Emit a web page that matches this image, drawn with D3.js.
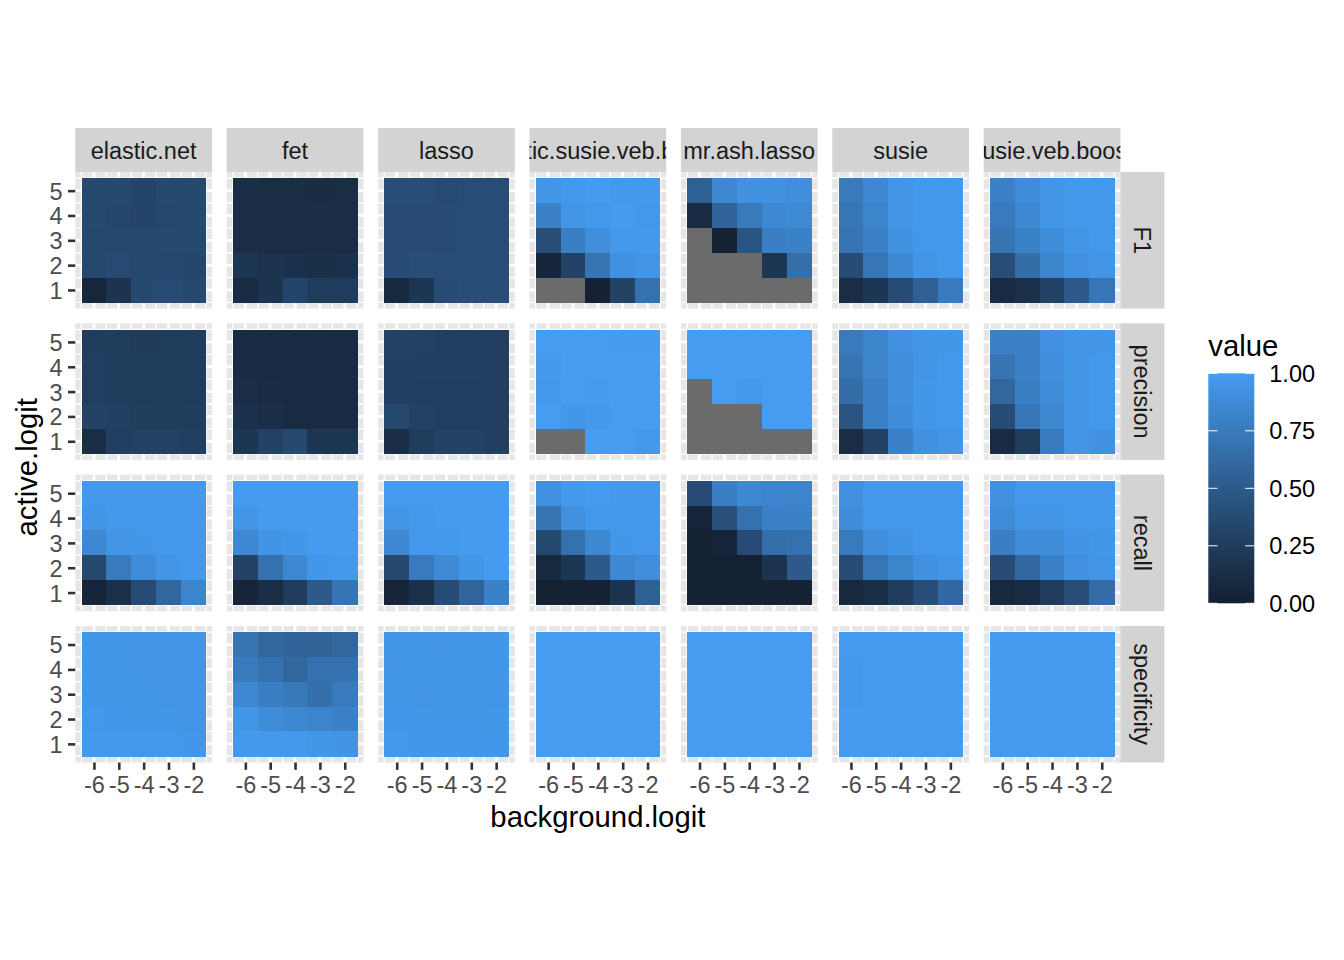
<!DOCTYPE html>
<html>
<head>
<meta charset="utf-8">
<script src="https://cdn.jsdelivr.net/npm/d3@7"></script>
<style>
  body { margin: 0; background: #fff; }
  svg { font-family: "Liberation Sans", Arial, sans-serif; }
</style>
</head>
<body>
<div id="chart"></div>
<script>
// facets
const methods = ["elastic.net", "fet", "lasso", "logistic.susie.veb.boost", "mr.ash.lasso", "susie", "susie.veb.boost"];
const metrics = ["F1", "precision", "recall", "specificity"];
const backgroundLogit = [-6, -5, -4, -3, -2];
const activeLogit = [5, 4, 3, 2, 1]; // row order of the grids below (top to bottom)
const legendBreaks = [0, 0.25, 0.5, 0.75, 1];

// values per method, each grid: rows active.logit 5..1, columns background.logit -6..-2
const elasticNet = {
  F1: [[0.36, 0.36, 0.33, 0.36, 0.36], [0.36, 0.34, 0.32, 0.35, 0.36], [0.35, 0.35, 0.35, 0.36, 0.36], [0.35, 0.37, 0.35, 0.35, 0.34], [0.06, 0.18, 0.36, 0.38, 0.36]],
  precision: [[0.26, 0.26, 0.24, 0.25, 0.26], [0.27, 0.26, 0.25, 0.25, 0.25], [0.27, 0.26, 0.25, 0.25, 0.25], [0.3, 0.28, 0.26, 0.25, 0.26], [0.12, 0.27, 0.29, 0.29, 0.27]],
  recall: [[0.98, 0.98, 0.98, 0.98, 0.98], [0.95, 0.98, 0.98, 0.98, 0.98], [0.85, 0.95, 0.96, 0.98, 0.98], [0.35, 0.75, 0.88, 0.95, 0.98], [0.05, 0.15, 0.38, 0.6, 0.82]],
  specificity: [[0.96, 0.96, 0.955, 0.955, 0.955], [0.96, 0.96, 0.955, 0.955, 0.955], [0.96, 0.96, 0.96, 0.955, 0.955], [0.97, 0.965, 0.96, 0.96, 0.955], [0.98, 0.98, 0.97, 0.97, 0.96]]
};
const fet = {
  F1: [[0.13, 0.12, 0.12, 0.11, 0.12], [0.13, 0.12, 0.12, 0.12, 0.12], [0.13, 0.12, 0.12, 0.12, 0.12], [0.2, 0.18, 0.15, 0.14, 0.15], [0.1, 0.18, 0.33, 0.25, 0.25]],
  precision: [[0.11, 0.1, 0.1, 0.1, 0.1], [0.11, 0.1, 0.1, 0.1, 0.1], [0.13, 0.11, 0.1, 0.1, 0.1], [0.16, 0.14, 0.1, 0.1, 0.1], [0.2, 0.3, 0.36, 0.2, 0.2]],
  recall: [[0.99, 0.99, 0.99, 0.99, 0.99], [0.95, 0.99, 0.99, 0.99, 0.99], [0.85, 0.94, 0.96, 0.99, 0.99], [0.3, 0.68, 0.85, 0.96, 0.98], [0.05, 0.12, 0.25, 0.5, 0.7]],
  specificity: [[0.7, 0.6, 0.57, 0.56, 0.6], [0.75, 0.68, 0.6, 0.68, 0.68], [0.85, 0.78, 0.74, 0.67, 0.75], [0.95, 0.88, 0.85, 0.82, 0.8], [0.98, 0.98, 0.98, 0.96, 0.94]]
};
const lasso = {
  F1: [[0.4, 0.4, 0.37, 0.39, 0.39], [0.38, 0.38, 0.38, 0.39, 0.39], [0.38, 0.38, 0.38, 0.39, 0.39], [0.38, 0.4, 0.39, 0.39, 0.39], [0.08, 0.2, 0.38, 0.4, 0.4]],
  precision: [[0.3, 0.29, 0.27, 0.28, 0.28], [0.28, 0.28, 0.28, 0.28, 0.28], [0.28, 0.27, 0.27, 0.27, 0.28], [0.35, 0.29, 0.27, 0.27, 0.28], [0.12, 0.25, 0.3, 0.3, 0.28]],
  recall: [[0.99, 0.99, 0.99, 0.99, 0.99], [0.95, 0.97, 0.99, 0.99, 0.99], [0.85, 0.97, 0.97, 0.99, 0.99], [0.35, 0.75, 0.87, 0.96, 0.99], [0.05, 0.15, 0.38, 0.58, 0.8]],
  specificity: [[0.96, 0.96, 0.955, 0.96, 0.96], [0.955, 0.96, 0.96, 0.96, 0.96], [0.96, 0.955, 0.96, 0.96, 0.955], [0.965, 0.96, 0.96, 0.96, 0.96], [0.97, 0.965, 0.965, 0.965, 0.96]]
};
const logisticSusie = {
  F1: [[0.95, 0.97, 0.99, 0.98, 0.98], [0.8, 0.95, 0.97, 0.99, 0.97], [0.4, 0.78, 0.9, 0.98, 0.98], [0.05, 0.3, 0.7, 0.92, 0.95], [null, null, 0.02, 0.3, 0.68]],
  precision: [[1, 1, 1, 0.99, 0.99], [0.98, 1, 1, 1, 1], [0.97, 1, 0.99, 1, 1], [1, 0.96, 0.98, 1, 1], [null, null, 1, 1, 0.97]],
  recall: [[0.92, 0.98, 0.99, 0.98, 0.97], [0.7, 0.92, 0.97, 0.98, 0.97], [0.35, 0.68, 0.85, 0.96, 0.97], [0.08, 0.2, 0.5, 0.85, 0.9], [0.02, 0.02, 0.02, 0.18, 0.55]],
  specificity: [[1, 1, 1, 1, 1], [1, 1, 1, 1, 1], [1, 1, 1, 1, 1], [1, 1, 1, 1, 1], [1, 1, 1, 1, 1]]
};
const mrAshLasso = {
  F1: [[0.55, 0.85, 0.92, 0.92, 0.9], [0.1, 0.57, 0.75, 0.85, 0.87], [null, 0.02, 0.45, 0.78, 0.8], [null, null, null, 0.2, 0.66], [null, null, null, null, null]],
  precision: [[1, 1, 1, 1, 1], [1, 1, 1, 1, 1], [null, 1, 0.97, 1, 1], [null, null, null, 1, 1], [null, null, null, null, null]],
  recall: [[0.38, 0.78, 0.85, 0.84, 0.82], [0.05, 0.42, 0.68, 0.8, 0.8], [0.02, 0.04, 0.38, 0.66, 0.68], [0.02, 0.02, 0.02, 0.18, 0.5], [0.02, 0.02, 0.02, 0.02, 0.02]],
  specificity: [[1, 1, 1, 1, 1], [1, 1, 1, 1, 1], [1, 1, 1, 1, 1], [1, 1, 1, 1, 1], [1, 1, 1, 1, 1]]
};
const susie = {
  F1: [[0.75, 0.85, 0.95, 0.97, 0.97], [0.72, 0.82, 0.95, 0.97, 0.97], [0.7, 0.8, 0.93, 0.97, 0.97], [0.38, 0.72, 0.85, 0.95, 0.97], [0.12, 0.2, 0.38, 0.55, 0.75]],
  precision: [[0.75, 0.82, 0.92, 0.95, 0.96], [0.7, 0.82, 0.9, 0.95, 0.97], [0.65, 0.8, 0.9, 0.96, 0.97], [0.45, 0.8, 0.88, 0.96, 0.97], [0.12, 0.3, 0.8, 0.92, 0.95]],
  recall: [[0.92, 0.97, 0.97, 0.97, 0.97], [0.88, 0.97, 0.97, 0.97, 0.97], [0.75, 0.9, 0.94, 0.97, 0.97], [0.38, 0.72, 0.82, 0.92, 0.95], [0.08, 0.12, 0.25, 0.4, 0.62]],
  specificity: [[0.99, 0.99, 0.99, 0.99, 0.99], [0.98, 0.99, 0.99, 0.99, 0.99], [0.98, 0.99, 0.99, 0.99, 0.99], [0.99, 0.99, 0.99, 0.99, 0.99], [0.99, 0.99, 0.99, 0.99, 0.99]]
};
const susieVebBoost = {
  F1: [[0.8, 0.88, 0.95, 0.97, 0.97], [0.75, 0.85, 0.95, 0.97, 0.97], [0.7, 0.8, 0.88, 0.95, 0.97], [0.4, 0.65, 0.82, 0.92, 0.95], [0.1, 0.15, 0.3, 0.5, 0.72]],
  precision: [[0.8, 0.8, 0.92, 0.95, 0.95], [0.7, 0.8, 0.9, 0.95, 0.97], [0.6, 0.78, 0.88, 0.95, 0.97], [0.38, 0.72, 0.85, 0.95, 0.97], [0.1, 0.25, 0.75, 0.95, 0.92]],
  recall: [[0.92, 0.97, 0.97, 0.97, 0.97], [0.88, 0.95, 0.95, 0.97, 0.97], [0.78, 0.88, 0.88, 0.94, 0.96], [0.38, 0.62, 0.8, 0.92, 0.95], [0.08, 0.1, 0.25, 0.4, 0.65]],
  specificity: [[0.99, 0.99, 0.99, 0.99, 0.99], [0.99, 0.99, 0.99, 0.99, 0.99], [0.99, 0.99, 0.99, 0.99, 0.99], [0.99, 0.99, 0.99, 0.99, 0.99], [0.99, 0.99, 0.99, 0.99, 0.99]]
};
const methodValues = [elasticNet, fet, lasso, logisticSusie, mrAshLasso, susie, susieVebBoost];

// long format rows
let data = [];
methods.forEach((m, i) => {
  metrics.forEach((k, j) => {
    methodValues[i][k].forEach((row, r) => {
      row.forEach((v, c) => {
        data.push({ method: m, metric: k, col: i, row: j,
          background: backgroundLogit[c], active: activeLogit[r], value: v });
      });
    });
  });
});

// layout
const W = 1344, H = 960;
const panelLeft = 75.3, panelTop = 172, pw = 136.7, ph = 136.6, gap = 14.7, stripH = 44;
const tickFont = 23.5, titleFont = 29.3;

const svg = d3.select("#chart").append("svg")
  .attr("width", W).attr("height", H);

const x = d3.scaleLinear().domain([-6.75, -1.25]).range([0, pw]);
const y = d3.scaleLinear().domain([0.25, 5.75]).range([ph, 0]);
const color = d3.scaleLinear().domain([0, 1])
  .range(["#132031", "#459cf1"])
  .interpolate(d3.interpolateLab);
const naColor = "#6b6b6b";

const minorX = [-6.5, -5.5, -4.5, -3.5, -2.5, -1.5];
const minorY = [0.5, 1.5, 2.5, 3.5, 4.5, 5.5];

methods.forEach((m, i) => {
  metrics.forEach((k, j) => {
    const px = panelLeft + i * (pw + gap), py = panelTop + j * (ph + gap);
    const g = svg.append("g").attr("transform", "translate(" + px + "," + py + ")");

    g.append("rect").attr("width", pw).attr("height", ph).attr("fill", "#e6e6e6");

    // grid
    g.selectAll(".minx").data(minorX).enter().append("line")
      .attr("x1", d => x(d)).attr("x2", d => x(d)).attr("y1", 0).attr("y2", ph)
      .attr("stroke", "#fff").attr("stroke-width", 1.4);
    g.selectAll(".miny").data(minorY).enter().append("line")
      .attr("y1", d => y(d)).attr("y2", d => y(d)).attr("x1", 0).attr("x2", pw)
      .attr("stroke", "#fff").attr("stroke-width", 1.4);
    g.selectAll(".majx").data(backgroundLogit).enter().append("line")
      .attr("x1", d => x(d)).attr("x2", d => x(d)).attr("y1", 0).attr("y2", ph)
      .attr("stroke", "#fff").attr("stroke-width", 2.8);
    g.selectAll(".majy").data(activeLogit).enter().append("line")
      .attr("y1", d => y(d)).attr("y2", d => y(d)).attr("x1", 0).attr("x2", pw)
      .attr("stroke", "#fff").attr("stroke-width", 2.8);

    // tiles
    const cells = data.filter(d => d.col === i && d.row === j);
    g.selectAll(".tile").data(cells).enter().append("rect")
      .attr("x", d => x(d.background - 0.5))
      .attr("y", d => y(d.active + 0.5))
      .attr("width", x(0.5) - x(-0.5) + 0.5)
      .attr("height", y(-0.5) - y(0.5) + 0.5)
      .attr("shape-rendering", "crispEdges")
      .attr("fill", d => d.value === null ? naColor : color(d.value));

    // y axis on first column
    if (i === 0) {
      const ya = g.append("g").call(d3.axisLeft(y).tickValues(activeLogit)
        .tickSize(7.3).tickPadding(5.5).tickFormat(d => String(d)));
      ya.select(".domain").remove();
      ya.selectAll("line").attr("stroke", "#333").attr("stroke-width", 2.6);
      ya.selectAll("text").attr("fill", "#4d4d4d").style("font-size", tickFont + "px")
        .attr("dy", "0.36em");
    }
    // x axis on last row
    if (j === metrics.length - 1) {
      const xa = g.append("g").attr("transform", "translate(0," + ph + ")")
        .call(d3.axisBottom(x).tickValues(backgroundLogit)
          .tickSize(7.3).tickPadding(6.5).tickFormat(d => String(d)));
      xa.select(".domain").remove();
      xa.selectAll("line").attr("stroke", "#333").attr("stroke-width", 2.6);
      xa.selectAll("text").attr("fill", "#4d4d4d").style("font-size", tickFont + "px");
    }
  });

  // top strip
  const sx = panelLeft + i * (pw + gap);
  svg.append("clipPath").attr("id", "clipTop" + i)
    .append("rect").attr("x", sx).attr("y", panelTop - stripH).attr("width", pw).attr("height", stripH);
  svg.append("rect").attr("x", sx).attr("y", panelTop - stripH).attr("width", pw).attr("height", stripH)
    .attr("fill", "#d3d3d3");
  svg.append("g").attr("clip-path", "url(#clipTop" + i + ")")
    .append("text")
    .attr("x", sx + pw / 2).attr("y", panelTop - stripH / 2 + 1).attr("dy", "0.36em")
    .attr("text-anchor", "middle").attr("fill", "#1a1a1a").style("font-size", tickFont + "px")
    .text(m);
});

// right strips
const rx = panelLeft + methods.length * pw + (methods.length - 1) * gap;
metrics.forEach((k, j) => {
  const sy = panelTop + j * (ph + gap);
  svg.append("rect").attr("x", rx).attr("y", sy).attr("width", stripH).attr("height", ph)
    .attr("fill", "#d3d3d3");
  svg.append("text")
    .attr("transform", "translate(" + (rx + stripH / 2) + "," + (sy + ph / 2) + ") rotate(90)")
    .attr("dy", "0.36em").attr("text-anchor", "middle").attr("fill", "#1a1a1a")
    .style("font-size", tickFont + "px").text(k);
});

// axis titles
const gridW = rx - panelLeft;
const gridH = metrics.length * ph + (metrics.length - 1) * gap;
svg.append("text").attr("x", panelLeft + gridW / 2).attr("y", 827)
  .attr("text-anchor", "middle").style("font-size", titleFont + "px").text("background.logit");
svg.append("text")
  .attr("transform", "translate(" + 37 + "," + (panelTop + gridH / 2) + ") rotate(-90)")
  .attr("text-anchor", "middle").style("font-size", titleFont + "px").text("active.logit");

// legend
const lx = 1208.3, ly = 373.3, lw = 46, lh = 230;
svg.append("text").attr("x", lx).attr("y", 356).style("font-size", titleFont + "px").text("value");
const grad = svg.append("defs").append("linearGradient").attr("id", "legendGrad")
  .attr("x1", 0).attr("y1", 1).attr("x2", 0).attr("y2", 0);
d3.range(0, 1.0001, 0.05).forEach(t => {
  grad.append("stop").attr("offset", t).attr("stop-color", color(t));
});
svg.append("rect").attr("x", lx).attr("y", ly).attr("width", lw).attr("height", lh)
  .attr("fill", "url(#legendGrad)");
const ls = d3.scaleLinear().domain([0, 1]).range([ly + lh, ly]);
legendBreaks.forEach(b => {
  svg.append("line").attr("x1", lx).attr("x2", lx + lw / 5).attr("y1", ls(b)).attr("y2", ls(b))
    .attr("stroke", "#fff").attr("stroke-width", 1);
  svg.append("line").attr("x1", lx + lw - lw / 5).attr("x2", lx + lw).attr("y1", ls(b)).attr("y2", ls(b))
    .attr("stroke", "#fff").attr("stroke-width", 1);
  svg.append("text").attr("x", lx + lw + 15).attr("y", ls(b)).attr("dy", "0.36em")
    .style("font-size", tickFont + "px").text(d3.format(".2f")(b));
});
</script>
</body>
</html>
